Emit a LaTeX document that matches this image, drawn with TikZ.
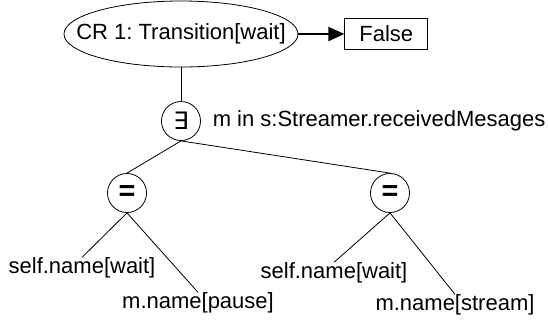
\documentclass[tikz,border=0pt]{standalone}
\usepackage{fontspec}
\setmainfont{Liberation Sans}
\newfontfamily\symfont{DejaVu Sans}
\usepackage{tikz}
\usetikzlibrary{arrows.meta}
\usetikzlibrary{positioning}
\usetikzlibrary{shapes.geometric}
\frenchspacing

\begin{document}
\begin{tikzpicture}[x=0.5pt,y=-0.5pt]
% 1 = 1 pixel of the original, y runs down
    \def\XROOT{181}
    \def\YROOT{34}
    \def\YEX{121} %exists node
    \def\YEQ{193} %equality nodes
    \def\XEQONE{127}
    \def\XEQTWO{390}
    \def\DIAM{19.5pt} %diameter of circles

    \tikzset{
      op/.style={circle,draw,inner sep=0pt,minimum size=\DIAM},
      leaf/.style={inner sep=0pt},
      every node/.style={font=\fontsize{11}{13}\selectfont},
    }

    \useasboundingbox (0,0) rectangle (548,323);

    % ROOT AND RESULT
    \node[ellipse,draw,minimum width=117pt,minimum height=33pt,inner sep=0pt]
        (CR) at (\XROOT,\YROOT) {\makebox[0pt]{CR 1: Transition[wait]}};
    \node[draw,minimum width=41.5pt,minimum height=15.5pt,inner sep=0pt,
        right=23pt of CR] (FALSE) {False};
    \draw[-{Triangle[length=8pt,width=7pt]}, line width=1pt]
        (CR) -- (FALSE);

    % EXISTS
    \node[op] (EX) at (\XROOT,\YEX) {{\symfont\large ∃}};
    \node[right=5.75pt of EX,inner sep=0pt] (RANGE)
        {m in s:Streamer.receivedMesages};
    \draw (CR) -- (EX);

    % EQUALITIES
    \node[op] (EQA) at (\XEQONE,\YEQ) {\Large\bfseries =};
    \node[op] (EQB) at (\XEQTWO,\YEQ) {\Large\bfseries =};
    \draw (EX.south) -- (EQA.north);
    \draw (EX.south) -- (EQB.north);

    % LEAVES
    \node[leaf] (SELFA) at (82,268) {self.name[wait]};
    \node[leaf] (MA) at (198,303) {m.name[pause]};
    \node[leaf] (SELFB) at (334,273) {self.name[wait]};
    \node[leaf] (MB) at (455,305) {m.name[stream]};
    \draw (EQA.south) -- (SELFA.north);
    \draw (EQA.south) -- (MA.north);
    \draw (EQB.south) -- (SELFB.north);
    \draw (EQB.south) -- (MB.north);

\end{tikzpicture}
\end{document}
